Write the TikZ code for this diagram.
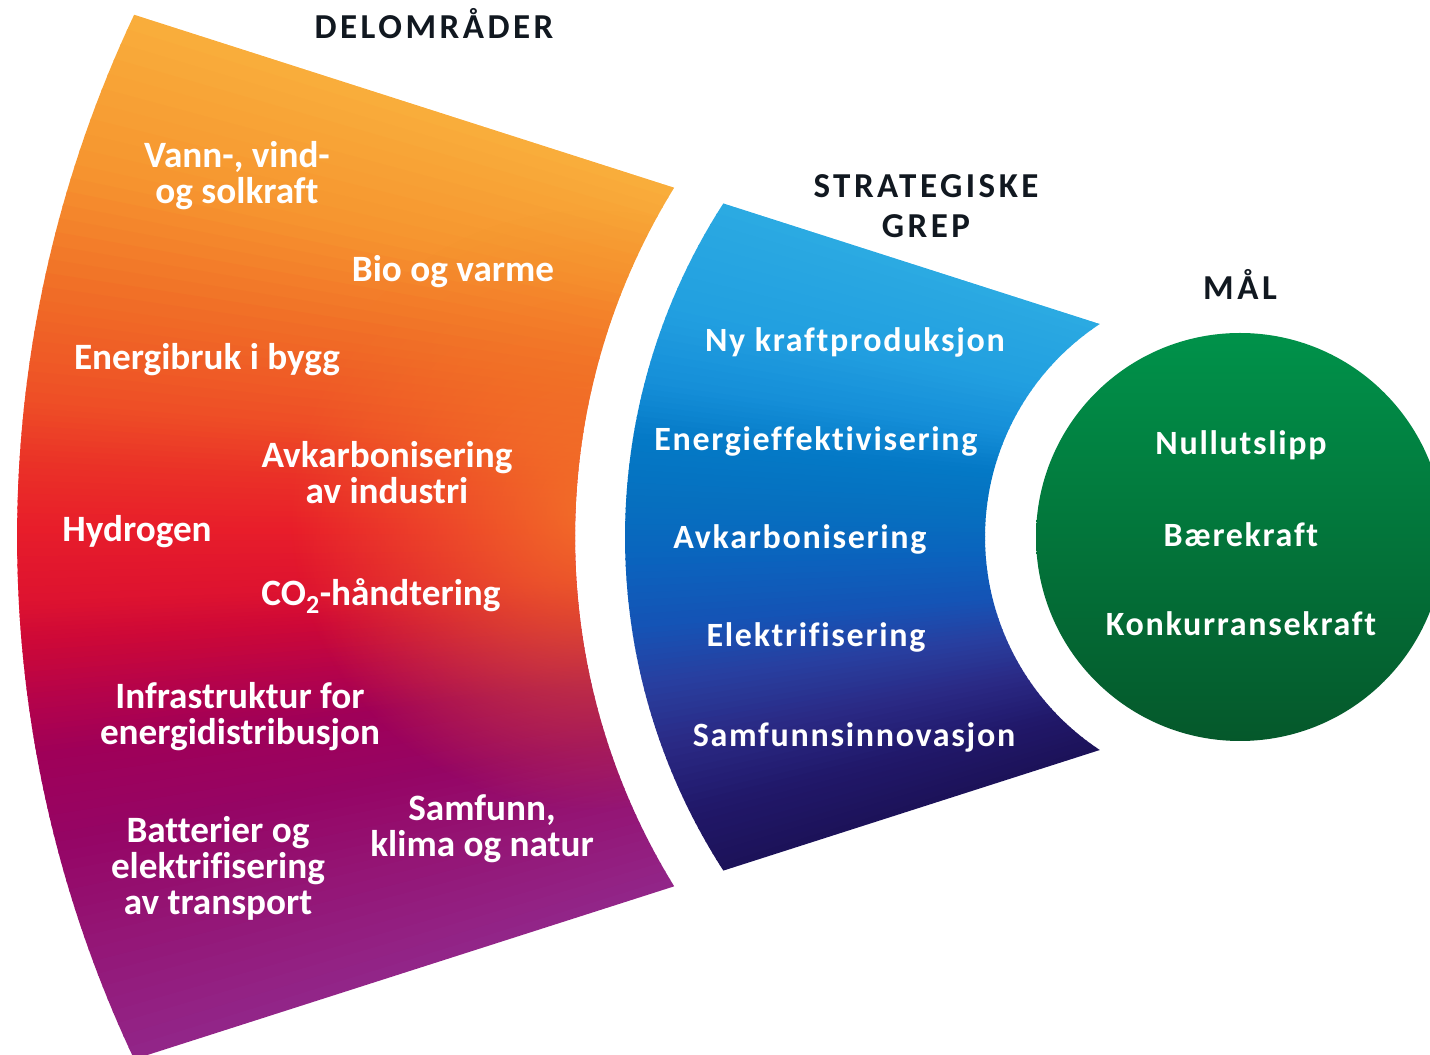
\documentclass[tikz,border=0pt]{standalone}
\usepackage{fontspec}
\setmainfont[Ligatures=NoCommon]{Carlito}
\newfontfamily\headfont[LetterSpace=10,Ligatures=NoCommon]{Carlito}
\newfontfamily\bluefont[LetterSpace=5,Ligatures=NoCommon]{Carlito}
\usetikzlibrary{calc,fadings}
\definecolor{o0}{HTML}{F9AE3C}
\definecolor{o1}{HTML}{F6952F}
\definecolor{o2}{HTML}{F06A26}
\definecolor{o3}{HTML}{EE4E26}
\definecolor{o4}{HTML}{EA3227}
\definecolor{o5}{HTML}{E81E2A}
\definecolor{o6}{HTML}{DD1230}
\definecolor{o7}{HTML}{CC0838}
\definecolor{o8}{HTML}{B5034A}
\definecolor{o9}{HTML}{A00058}
\definecolor{o10}{HTML}{950565}
\definecolor{o11}{HTML}{941575}
\definecolor{o12}{HTML}{922689}
\definecolor{b0}{HTML}{2BAAE2}
\definecolor{b1}{HTML}{229FE0}
\definecolor{b2}{HTML}{158ED8}
\definecolor{b3}{HTML}{0479C6}
\definecolor{b4}{HTML}{0670BF}
\definecolor{b5}{HTML}{0A64BE}
\definecolor{b6}{HTML}{1553B5}
\definecolor{b7}{HTML}{283FA0}
\definecolor{b8}{HTML}{2A2A85}
\definecolor{b9}{HTML}{21186A}
\definecolor{b10}{HTML}{1C1258}
\definecolor{gtop}{HTML}{00924A}
\definecolor{gbot}{HTML}{05582B}
\definecolor{headc}{HTML}{111820}
\definecolor{glowc}{HTML}{F47A28}
\tikzfading[name=glow, inner color=transparent!15, outer color=transparent!100]
\begin{document}
\begin{tikzpicture}[x=1pt,y=1pt,
  otext/.style={text=white, align=center, font=\bfseries\fontsize{37.2}{36}\selectfont},
  btext/.style={text=white, align=center, font=\bluefont\bfseries\fontsize{34}{36}\selectfont},
  gtext/.style={text=white, align=center, font=\bluefont\bfseries\fontsize{34}{36}\selectfont},
  htext/.style={text=headc, align=center, font=\headfont\bfseries\fontsize{35}{40}\selectfont}]
\useasboundingbox (0,0) rectangle (1430,1055);
\coordinate (O) at (1240,518);
\coordinate (C) at (1765,518);
% ---------- orange sector ----------
\begin{scope}
\clip (O) ++(154.72:1223) arc[start angle=154.72,end angle=205.28,radius=1223]
  -- ($(O)+(211.69:665)$) arc[start angle=211.69,end angle=148.31,radius=665] -- cycle;
\foreach \ca/\cb/\fa/\fb in {o0/o1/0/0.15, o1/o2/0.15/0.28, o2/o3/0.28/0.375, o3/o4/0.375/0.43,
  o4/o5/0.43/0.49, o5/o6/0.49/0.56, o6/o7/0.56/0.60, o7/o8/0.60/0.65, o8/o9/0.65/0.70,
  o9/o10/0.70/0.785, o10/o11/0.785/0.876, o11/o12/0.876/1.0}{
  \foreach \k in {0,...,9}{
    \pgfmathtruncatemacro\p{\k*10+5}
    \pgfmathsetmacro\aa{162.243+35.514*(\fa+(\fb-\fa)*\k/10)}
    \pgfmathsetmacro\ab{162.243+35.514*(\fa+(\fb-\fa)*(\k+1)/10)+0.08}
    \fill[\cb!\p!\ca] (C) -- +(\aa:2600) -- +(\ab:2600) -- cycle;
  }
}
\fill[glowc, path fading=glow] (590,545) circle (300);
\end{scope}
% ---------- blue sector ----------
\begin{scope}
\clip (O) ++(147.15:615) arc[start angle=147.15,end angle=212.85,radius=615]
  -- ($(O)+(236.65:255)$) arc[start angle=236.65,end angle=123.35,radius=255] -- cycle;
\foreach \ca/\cb/\fa/\fb in {b0/b1/0/0.17, b1/b2/0.17/0.28, b2/b3/0.28/0.36, b3/b4/0.36/0.45,
  b4/b5/0.45/0.53, b5/b6/0.53/0.63, b6/b7/0.63/0.71, b7/b8/0.71/0.80, b8/b9/0.80/0.90, b9/b10/0.90/1.0}{
  \foreach \k in {0,...,9}{
    \pgfmathtruncatemacro\p{\k*10+5}
    \pgfmathsetmacro\aa{162.243+35.514*(\fa+(\fb-\fa)*\k/10)}
    \pgfmathsetmacro\ab{162.243+35.514*(\fa+(\fb-\fa)*(\k+1)/10)+0.08}
    \fill[\cb!\p!\ca] (C) -- +(\aa:2600) -- +(\ab:2600) -- cycle;
  }
}
\end{scope}
% ---------- green circle ----------
\shade[top color=gtop, bottom color=gbot] (O) circle (204);
% ---------- headings ----------
\node[htext] (h1) at (434,1031) {DELOMRÅDER};
\node[htext] (h2) at (926,849) {STRATEGISKE\\GREP};
\node[htext] (h3) at (1240,771) {MÅL};
% ---------- orange texts ----------
\node[otext] (d1) at (237,879) {Vann-, vind-\\og solkraft};
\node[otext] (d2) at (453,783) {Bio og varme};
\node[otext] (d3) at (207,695) {Energibruk i bygg};
\node[otext] (d4) at (387,582) {Avkarbonisering\\av industri};
\node[otext] (d5) at (137,523) {Hydrogen};
\node[otext] (d6) at (381,459) {CO\textsubscript{2}-håndtering};
\node[otext] (d7) at (240,338) {Infrastruktur for\\energidistribusjon};
\node[otext] (d8) at (218,187) {Batterier og\\elektrifisering\\av transport};
\node[otext] (d9) at (482,226) {Samfunn,\\klima og natur};
% ---------- blue texts ----------
\node[btext] (s1) at (855,713) {Ny kraftproduksjon};
\node[btext] (s2) at (816,614) {Energieffektivisering};
\node[btext] (s3) at (800,516) {Avkarbonisering};
\node[btext] (s4) at (816,418) {Elektrifisering};
\node[btext] (s5) at (854,318) {Samfunnsinnovasjon};
% ---------- green texts ----------
\node[gtext] (m1) at (1241,610) {Nullutslipp};
\node[gtext] (m2) at (1241,520) {Bærekraft};
\node[gtext] (m3) at (1241,431) {Konkurransekraft};
\end{tikzpicture}
\end{document}
